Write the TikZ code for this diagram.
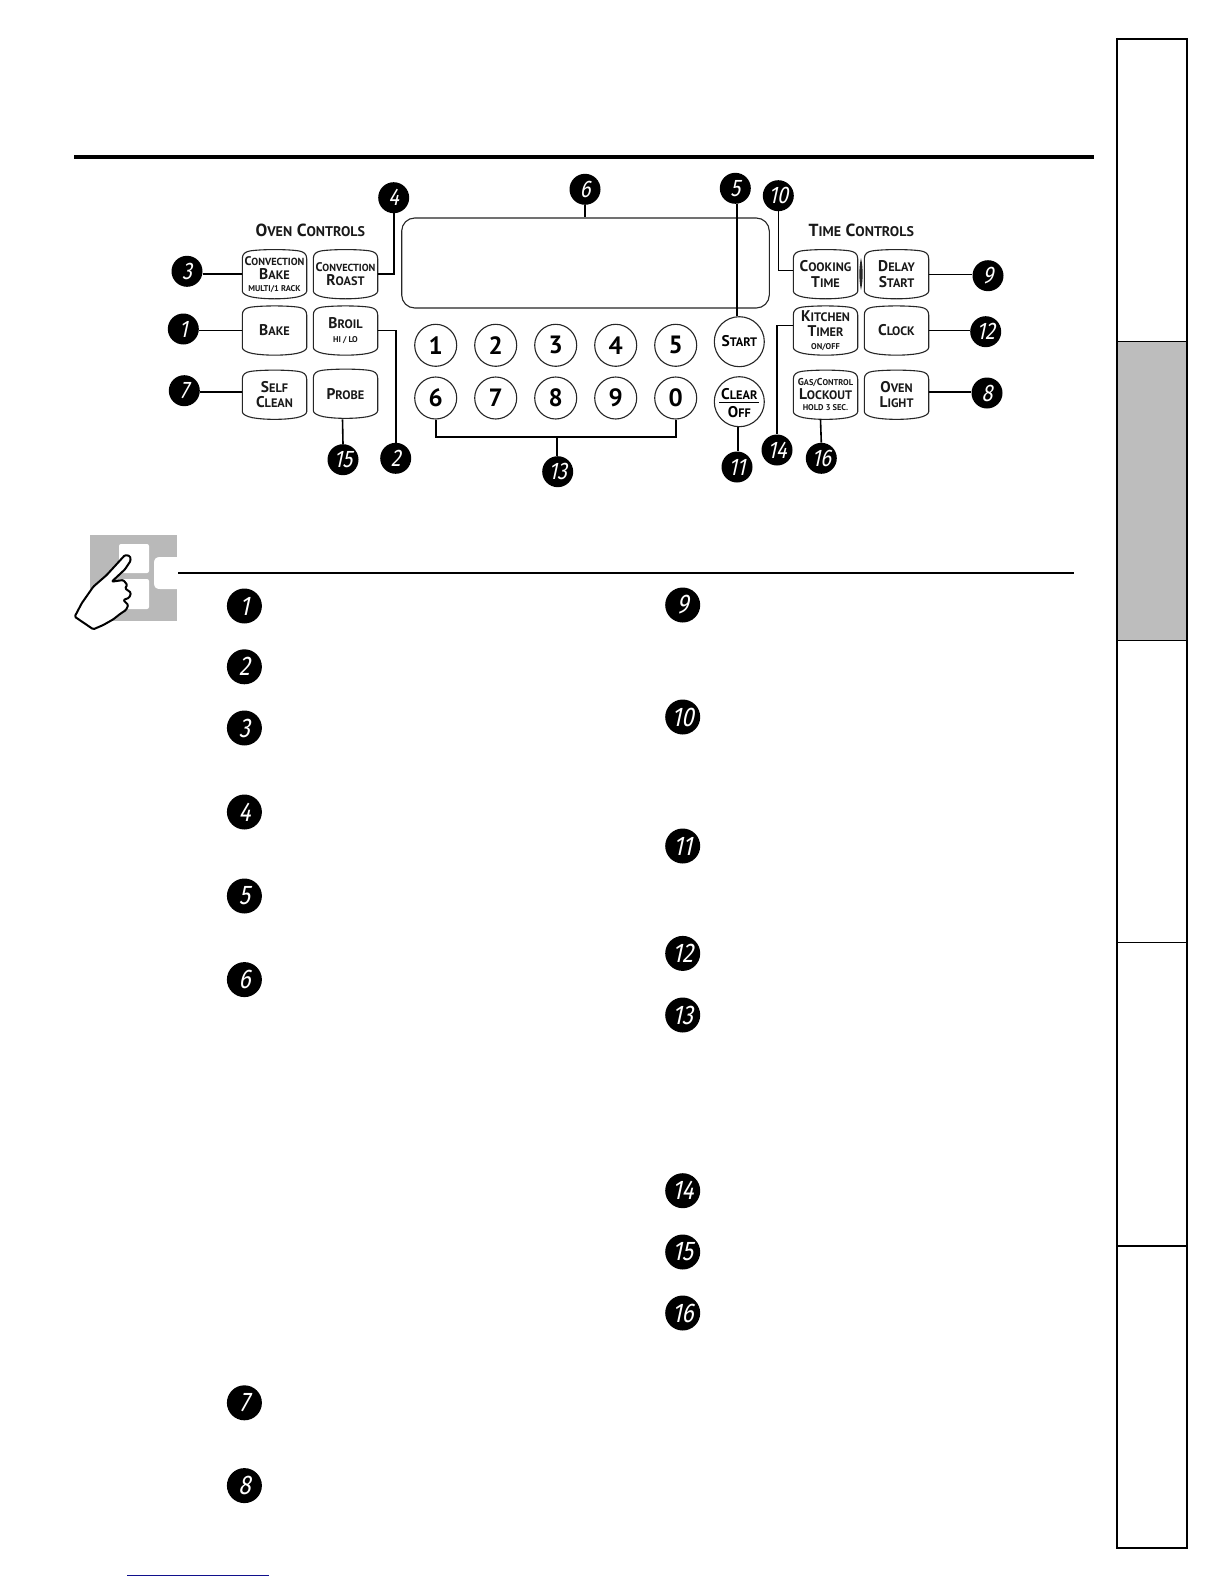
\documentclass[tikz,border=0pt]{standalone}
\usepackage{fontspec}
\setmainfont{PT Sans}
\newfontfamily\badgefont{Fira Sans}[FakeSlant=0.22,FakeStretch=0.82]
\usetikzlibrary{calc}
\definecolor{tabgrey}{HTML}{BDBDBD}
\definecolor{icongrey}{HTML}{B9B9B9}
\definecolor{linknavy}{HTML}{10108C}
\newcommand\SCa[2]{{\fontsize{12.5}{12.5}\selectfont #1}{\fontsize{10.3}{10.3}\selectfont #2}}
\newcommand\SCb[2]{{\fontsize{15.5}{15.5}\selectfont #1}{\fontsize{12.3}{12.3}\selectfont #2}}
\newcommand\SCt[2]{{\fontsize{17.5}{17.5}\selectfont #1}{\fontsize{14}{14}\selectfont #2}}
\newcommand\SCs[1]{{\fontsize{8.4}{8.4}\selectfont #1}}
\newcommand\LOW[1]{\raisebox{-1.6pt}{#1}}
\tikzset{
  x=1pt,y=-1pt,
  btnnode/.style={minimum width=64pt,minimum height=49pt,inner sep=0pt,align=center,text=black!90},
  btnline/.style={draw=black!85,line width=1.1pt},
  conn/.style={draw=black,line width=1.6pt},
  numkey/.style={circle,draw=black!85,line width=1.1pt,minimum size=42pt,inner sep=0pt,font=\bfseries\fontsize{25}{25}\selectfont},
  roundkey/.style={circle,draw=black!85,line width=1.1pt,minimum size=50pt,inner sep=0pt,align=center,font=\bfseries},
  badge/.style={circle,fill=black,text=white,minimum size=31pt,inner sep=0pt,font=\badgefont\fontsize{24}{24}\selectfont},
  bigbadge/.style={circle,fill=black,text=white,minimum size=35pt,inner sep=0pt,font=\badgefont\fontsize{27}{27}\selectfont},
  heading/.style={inner sep=0pt,font=\bfseries,text=black!90},
}
\newcommand\btn[5][14]{%
  \node[btnnode,font=\bfseries\fontsize{10}{#1}\selectfont] (#2) at (#3,#4) {#5};
  \draw[btnline,shift={(#2.center)}] (-32.2,-15.5) .. controls (-32.2,-20.5) and (-29,-22.5) .. (-24,-23.3)
    .. controls (-12,-25) and (12,-25) .. (24,-23.3) .. controls (29,-22.5) and (32.2,-20.5) .. (32.2,-15.5)
    -- (32.2,17) .. controls (32.2,19.5) and (28,21.8) .. (22,23) .. controls (10,25.2) and (-10,25.2) .. (-22,23)
    .. controls (-28,21.8) and (-32.2,19.5) .. (-32.2,17) -- cycle;
}
\begin{document}
\begin{tikzpicture}
\useasboundingbox (0,0) rectangle (1224,1584);
\fill[white] (0,0) rectangle (1224,1584);

% page rules
\coordinate (ruleAl) at (74,156.5); \coordinate (ruleAr) at (1094,156.5);
\draw[line width=4pt] (ruleAl) -- (ruleAr);
\coordinate (ruleBl) at (178,572.7); \coordinate (ruleBr) at (1074,572.7);
\draw[line width=1.8pt] (ruleBl) -- (ruleBr);
\coordinate (linkl) at (127,1575.3); \coordinate (linkr) at (269,1575.3);
\draw[linknavy,line width=1.2pt] (linkl) -- (linkr);

% side tabs
\fill[tabgrey] (1117,341.5) rectangle (1187,640.5);
\draw[line width=1.2pt] (1117,39) rectangle (1187,1548);
\draw[line width=2.6pt] (1117,38) -- (1117,1549);
\draw[line width=2.2pt] (1116,39) -- (1188,39);
\draw[line width=1pt] (1117,341.5) -- (1187,341.5);
\draw[line width=1pt] (1117,640.5) -- (1187,640.5);
\draw[line width=1pt] (1117,942) -- (1187,942);
\draw[line width=1.2pt] (1117,1246) -- (1187,1246);

% icon
\fill[icongrey] (90,535) rectangle (177,620.7);
\fill[white,rounded corners=2pt] (119,544) rectangle (149,573);
\fill[white,rounded corners=2pt] (119,579) rectangle (149,609);
\fill[white] (177,557) -- (160,557) .. controls (156,557) and (154,559) .. (154,563) -- (154,583) .. controls (154,587) and (156,589) .. (160,589) -- (177,589) -- cycle;
\draw[fill=white,line width=2pt,line join=round,rounded corners=1.2pt]
  (74.7,616.7) -- (81.7,603.3) -- (93.3,586.7) -- (106.7,575) -- (125,555) -- (130,556) -- (130.7,560.7)
  -- (125,569.3) -- (111.7,581.7) -- (123.3,580) -- (127.3,585) -- (125,588.3) -- (131,592.7) -- (129.3,597.7)
  -- (123.3,600) -- (128.3,605) -- (126,610) -- (120,614) -- (113.3,619.3) -- (103.3,625) -- (93.3,629.3) -- cycle;

% headings
\node[heading] (ovenhead) at (310.3,230) {\SCt{O}{VEN}\hspace{2pt} \SCt{C}{ONTROLS}};
\node[heading] (timehead) at (861.3,230) {\SCt{T}{IME}\hspace{2pt} \SCt{C}{ONTROLS}};

% display
\node[draw=black!85,line width=1.1pt,rounded corners=13pt,minimum width=367.6pt,minimum height=90pt,inner sep=0pt] (display) at (585.5,263) {};

% oven buttons
\btn[13]{convbake}{274.5}{274.15}{\SCa{C}{ONVECTION}\\\LOW{\SCb{B}{AKE}}\\\SCs{MULTI/1 RACK}}
\btn[14]{convroast}{345.5}{274.15}{\SCa{C}{ONVECTION}\\\SCb{R}{OAST}}
\btn{bake}{274.5}{330.5}{\SCb{B}{AKE}}
\btn[13.5]{broil}{345.5}{330.5}{\SCb{B}{ROIL}\\\SCs{HI / LO}}
\btn[15.5]{selfclean}{274.5}{394.7}{\SCb{S}{ELF}\\\SCb{C}{LEAN}}
\btn{probe}{345.5}{393.7}{\SCb{P}{ROBE}}

% time buttons
\btn[15.5]{cooktime}{825.5}{274.15}{\SCb{C}{OOKING}\\\SCb{T}{IME}}
\btn[15.5]{delaystart}{896.5}{274.15}{\SCb{D}{ELAY}\\\SCb{S}{TART}}
\btn[14.5]{kitchen}{825.5}{330.5}{\LOW{\SCb{K}{ITCHEN}}\\\LOW{\SCb{T}{IMER}}\\\SCs{ON/OFF}}
\btn{clock}{896.5}{330.5}{\SCb{C}{LOCK}}
\btn[13.5]{lockout}{825.5}{394.7}{\LOW{{\fontsize{10}{10}\selectfont G}{\fontsize{8.4}{8.4}\selectfont AS/}{\fontsize{10}{10}\selectfont C}{\fontsize{8.4}{8.4}\selectfont ONTROL}}\\\LOW{\SCb{L}{OCKOUT}}\\\SCs{HOLD 3 SEC.}}
\btn[15.5]{ovenlight}{896.5}{394.7}{\SCb{O}{VEN}\\\SCb{L}{IGHT}}
\fill[black!85] (861,258) .. controls (858.8,268) and (858.8,280) .. (861,290) .. controls (863.2,280) and (863.2,268) .. (861,258) -- cycle;

% number keys
\node[numkey] (n1) at (435.7,345.3) {1};
\node[numkey] (n2) at (495.7,345.3) {2};
\node[numkey] (n3) at (555.7,345.3) {3};
\node[numkey] (n4) at (615.7,345.3) {4};
\node[numkey] (n5) at (675.7,345.3) {5};
\node[numkey] (n6) at (435.7,398) {6};
\node[numkey] (n7) at (495.7,398) {7};
\node[numkey] (n8) at (555.7,398) {8};
\node[numkey] (n9) at (615.7,398) {9};
\node[numkey] (n0) at (675.7,398) {0};

% round keys
\node[roundkey] (start) at (739.3,341.7) {\raisebox{1pt}{\SCb{S}{TART}}};
\node[roundkey] (clear) at (739.3,401.7) {};
\node[inner sep=0pt,font=\bfseries] (cleartxt) at (739.3,394.3) {\SCb{C}{LEAR}};
\node[inner sep=0pt,font=\bfseries] (offtxt) at (739.3,411.7) {\SCb{O}{FF}};
\draw[line width=1.2pt] ([xshift=-20pt,yshift=-1pt]clear.center) -- ([xshift=20pt,yshift=-1pt]clear.center);

% diagram badges
\node[badge] (b1) at (183.3,329) {1};
\node[badge] (b2) at (395.7,458.3) {2};
\node[badge] (b3) at (187,271.3) {3};
\node[badge] (b4) at (393.7,197.7) {4};
\node[badge] (b5) at (735.3,188.3) {5};
\node[badge] (b6) at (585,189.3) {6};
\node[badge] (b7) at (184.3,390.7) {7};
\node[badge] (b8) at (987,393) {8};
\node[badge] (b9) at (988,275.7) {9};
\node[badge] (b10) at (778.3,195.7) {10};
\node[badge] (b11) at (737,467) {11};
\node[badge] (b12) at (985.7,331.7) {12};
\node[badge] (b13) at (557.7,471.7) {13};
\node[badge] (b14) at (777,450) {14};
\node[badge] (b15) at (343,459.7) {15};
\node[badge] (b16) at (821.3,458.3) {16};

% connectors
\draw[conn] (convbake.west) -- (convbake.west -| b3.east);
\draw[conn] (bake.west) -- (bake.west -| b1.east);
\draw[conn] ([yshift=3pt]selfclean.west) -- ([yshift=3pt]selfclean.west -| b7.east);
\draw[conn] (convroast.east) -| (b4.south);
\draw[conn] (broil.east) -| (b2.north);
\draw[conn] ([xshift=-3pt,yshift=-1pt]probe.south) -- (b15.north);
\coordinate (brk) at (557,436.7);
\draw[conn] (n6.south) |- (brk) -| (n0.south);
\draw[conn] (brk) -- (brk |- b13.north);
\draw[conn] (b6.south) -- (b6.south |- display.north);
\draw[conn] ([xshift=-2.3pt]start.north) -- ([xshift=-2.3pt]start.north |- b5.south);
\draw[conn] ([xshift=-1.3pt]clear.south) -- ([xshift=-1.3pt]clear.south |- b11.north);
\draw[conn] (b10.south) |- ([yshift=3.5pt]cooktime.west);
\draw[conn] ([yshift=5pt]kitchen.west) -| (b14.north);
\draw[conn] ([xshift=-5pt]lockout.south) -- (b16.north);
\draw[conn] ([yshift=-0.5pt]delaystart.east) -- ([yshift=-0.5pt]delaystart.east -| b9.west);
\draw[conn] (clock.east) -- (clock.east -| b12.west);
\draw[conn] ([yshift=3pt]ovenlight.east) -- ([yshift=3pt]ovenlight.east -| b8.west);

% list badges
\node[bigbadge] (l1) at (244.4,606) {1};
\node[bigbadge] (l2) at (244.4,666.8) {2};
\node[bigbadge] (l3) at (244.4,728) {3};
\node[bigbadge] (l4) at (244.4,812) {4};
\node[bigbadge] (l5) at (244.4,896) {5};
\node[bigbadge] (l6) at (244.4,979.6) {6};
\node[bigbadge] (l7) at (244.4,1402.8) {7};
\node[bigbadge] (l8) at (244.4,1485.6) {8};
\node[bigbadge] (l9) at (682.7,605) {9};
\node[bigbadge] (l10) at (682.7,717) {10};
\node[bigbadge] (l11) at (682.7,846) {11};
\node[bigbadge] (l12) at (682.7,953.4) {12};
\node[bigbadge] (l13) at (682.7,1015) {13};
\node[bigbadge] (l14) at (682.7,1190.7) {14};
\node[bigbadge] (l15) at (682.7,1252) {15};
\node[bigbadge] (l16) at (682.7,1313) {16};
\end{tikzpicture}
\end{document}
